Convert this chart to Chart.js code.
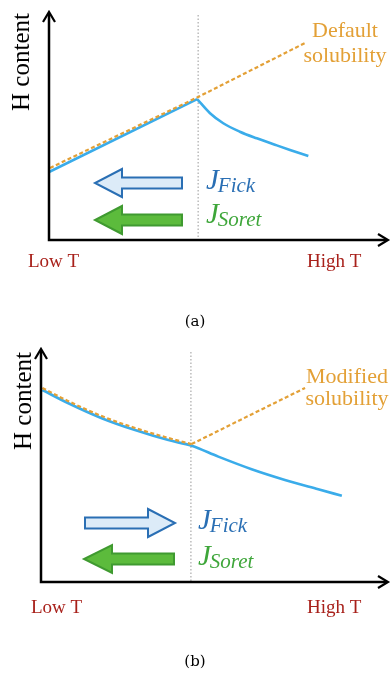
<!DOCTYPE html>
<html lang="en">
<head>
<meta charset="UTF-8">
<title>H content vs temperature</title>
<script src="https://cdn.jsdelivr.net/npm/chart.js"></script>
<style>
  body, html { margin: 0; padding: 0; background: #fff; }
  .panel { position: absolute; left: 0; width: 391px; }
  #panelA { top: 0; height: 330px; }
  #panelB { top: 330px; height: 349px; }
</style>
</head>
<body>
<div class="panel" id="panelA"><canvas id="chartA"></canvas></div>
<div class="panel" id="panelB"><canvas id="chartB"></canvas></div>
<script>
// (a) default solubility: H content follows solubility up to the split, then drops
const aRiseX = [0, 4.37];
const aRiseY = [2.98, 6.18];
const aFallX = [4.37, 4.75, 5.14, 5.63, 6.13, 6.72, 7.11, 7.65];
const aFallY = [6.18, 5.56, 5.12, 4.75, 4.46, 4.15, 3.95, 3.68];
const aSolX = [0.03, 4.37, 7.55];
const aSolY = [3.16, 6.25, 8.64];
const aSplit = 4.40;

// (b) modified solubility
const bContentX = [0.04, 0.79, 1.75, 2.71, 3.67, 4.34, 5.11, 6.07, 7.03, 7.99, 8.67];
const bContentY = [8.24, 7.67, 7.03, 6.52, 6.09, 5.85, 5.38, 4.84, 4.38, 3.98, 3.70];
const bSolCurveX = [0.04, 0.79, 1.75, 2.71, 3.67, 4.34];
const bSolCurveY = [8.33, 7.76, 7.12, 6.61, 6.18, 5.92];
const bSolLineX = [4.34, 7.61];
const bSolLineY = [5.92, 8.33];
const bSplit = 4.32;

const yTitle = 'H content';
const xLow = 'Low T';
const xHigh = 'High T';

const BLUE_LINE = '#3aacea';
const ORANGE = '#e3a036';
const DARK_RED = '#a8201a';
const FICK_BLUE = '#2a6fb4';
const SORET_GREEN = '#3ea63a';

function pts(xs, ys) {
  return xs.map((x, i) => ({ x: x, y: ys[i] }));
}

function solSet(xs, ys, smooth) {
  return {
    data: pts(xs, ys), borderColor: ORANGE, borderWidth: 2.2,
    borderDash: [4, 2.5], pointRadius: 0,
    cubicInterpolationMode: smooth ? 'monotone' : 'default', tension: 0
  };
}

function contentSet(xs, ys, smooth) {
  return {
    data: pts(xs, ys), borderColor: BLUE_LINE, borderWidth: 2.6,
    pointRadius: 0,
    cubicInterpolationMode: smooth ? 'monotone' : 'default', tension: 0
  };
}

function blockArrow(ctx, x1, x2, cy, headLen, headHalf, shaftHalf, fill, stroke) {
  // x1 = tail, x2 = tip
  const dir = x2 > x1 ? 1 : -1;
  const hb = x2 - dir * headLen;
  ctx.beginPath();
  ctx.moveTo(x1, cy - shaftHalf);
  ctx.lineTo(hb, cy - shaftHalf);
  ctx.lineTo(hb, cy - headHalf);
  ctx.lineTo(x2, cy);
  ctx.lineTo(hb, cy + headHalf);
  ctx.lineTo(hb, cy + shaftHalf);
  ctx.lineTo(x1, cy + shaftHalf);
  ctx.closePath();
  ctx.fillStyle = fill;
  ctx.fill();
  ctx.lineWidth = 2;
  ctx.strokeStyle = stroke;
  ctx.stroke();
}

function fluxLabel(ctx, x, y, sub, color) {
  ctx.fillStyle = color;
  ctx.textAlign = 'left';
  ctx.textBaseline = 'alphabetic';
  ctx.font = 'italic 29px "Liberation Serif", serif';
  ctx.fillText('J', x, y - 3);
  const w = ctx.measureText('J').width;
  ctx.font = 'italic 21px "Liberation Serif", serif';
  ctx.fillText(sub, x + w - 1, y);
}

const sketchPlugin = {
  id: 'sketch',
  beforeDatasetsDraw(chart, args, o) {
    const ctx = chart.ctx;
    const area = chart.chartArea;
    const xs = chart.scales.x.getPixelForValue(o.split);
    ctx.save();
    ctx.strokeStyle = '#b0b0b0';
    ctx.lineWidth = 1.3;
    ctx.setLineDash([1.5, 2]);
    ctx.beginPath();
    ctx.moveTo(xs, area.top + 3);
    ctx.lineTo(xs, area.bottom);
    ctx.stroke();
    ctx.restore();
  },
  afterDraw(chart, args, o) {
    const ctx = chart.ctx;
    const a = chart.chartArea;
    ctx.save();
    // axes with open arrowheads
    ctx.strokeStyle = '#000';
    ctx.lineWidth = 2.5;
    ctx.beginPath();
    ctx.moveTo(a.left, a.top + 1);
    ctx.lineTo(a.left, a.bottom);
    ctx.lineTo(a.right - 1, a.bottom);
    ctx.stroke();
    ctx.lineWidth = 2.2;
    ctx.beginPath();
    ctx.moveTo(a.left - 6, a.top + 10);
    ctx.lineTo(a.left, a.top);
    ctx.lineTo(a.left + 6, a.top + 10);
    ctx.moveTo(a.right - 10, a.bottom - 6);
    ctx.lineTo(a.right, a.bottom);
    ctx.lineTo(a.right - 10, a.bottom + 6);
    ctx.stroke();

    // y title
    ctx.save();
    ctx.translate(o.yTitleX, o.yTitleY);
    ctx.rotate(-Math.PI / 2);
    ctx.fillStyle = '#000';
    ctx.font = '25px "Liberation Serif", serif';
    ctx.textAlign = 'center';
    ctx.textBaseline = 'alphabetic';
    ctx.fillText(yTitle, 0, 0);
    ctx.restore();

    // x end labels
    ctx.fillStyle = DARK_RED;
    ctx.font = '19px "Liberation Serif", serif';
    ctx.textAlign = 'left';
    ctx.textBaseline = 'alphabetic';
    ctx.fillText(xLow, o.lowX, o.tBase);
    ctx.fillText(xHigh, o.highX, o.tBase);

    // solubility label
    ctx.fillStyle = ORANGE;
    ctx.font = '22px "Liberation Serif", serif';
    ctx.textAlign = 'center';
    ctx.fillText(o.solLabel[0], o.solX, o.solY1);
    ctx.fillText(o.solLabel[1], o.solX, o.solY2);

    // flux arrows
    o.arrows.forEach(ar => blockArrow(ctx, ar[0], ar[1], ar[2], ar[3], 14, 5.5, ar[4], ar[5]));
    fluxLabel(ctx, o.jX, o.fickY, 'Fick', FICK_BLUE);
    fluxLabel(ctx, o.jX, o.soretY, 'Soret', SORET_GREEN);

    // panel caption
    ctx.fillStyle = '#000';
    ctx.font = '15px "DejaVu Serif", serif';
    ctx.textAlign = 'center';
    ctx.textBaseline = 'middle';
    ctx.fillText(o.caption, 195, o.capY);
    ctx.restore();
  }
};

function makeChart(id, datasets, opts, pad) {
  return new Chart(document.getElementById(id), {
    type: 'line',
    data: { datasets: datasets },
    options: {
      responsive: true,
      maintainAspectRatio: false,
      animation: false,
      layout: { padding: pad },
      scales: {
        x: { type: 'linear', min: 0, max: 10, display: false },
        y: { min: 0, max: 10, display: false }
      },
      plugins: {
        legend: { display: false },
        tooltip: { enabled: false },
        sketch: opts
      }
    },
    plugins: [sketchPlugin]
  });
}

makeChart('chartA', [
  solSet(aSolX, aSolY, false),
  contentSet(aRiseX, aRiseY, false),
  contentSet(aFallX, aFallY, true)
], {
  split: aSplit,
  yTitleX: 29, yTitleY: 62,
  lowX: 28, highX: 307, tBase: 267,
  solLabel: ['Default', 'solubility'], solX: 345, solY1: 37, solY2: 62,
  arrows: [
    [182, 95, 183, 27, '#dcebf8', FICK_BLUE],
    [182, 95, 220, 27, '#5cbb3c', '#3f9a30']
  ],
  jX: 206, fickY: 192, soretY: 226,
  caption: '(a)', capY: 322
}, { left: 49, right: 3, top: 12, bottom: 90 });

makeChart('chartB', [
  solSet(bSolCurveX, bSolCurveY, true),
  solSet(bSolLineX, bSolLineY, false),
  contentSet(bContentX, bContentY, true)
], {
  split: bSplit,
  yTitleX: 31, yTitleY: 71,
  lowX: 31, highX: 307, tBase: 283,
  solLabel: ['Modified', 'solubility'], solX: 347, solY1: 53, solY2: 75,
  arrows: [
    [85, 175, 193, 27, '#dcebf8', FICK_BLUE],
    [174, 84, 229, 28, '#5cbb3c', '#3f9a30']
  ],
  jX: 198, fickY: 202, soretY: 238,
  caption: '(b)', capY: 332
}, { left: 41, right: 3, top: 19, bottom: 97 });
</script>
</body>
</html>
